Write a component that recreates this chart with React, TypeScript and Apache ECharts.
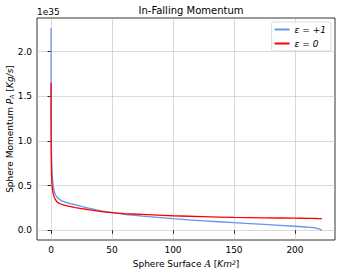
import React, { useEffect, useRef } from "react";
import * as echarts from "echarts";

const area = [0, 0.1, 0.3, 0.6, 1, 1.5, 2, 3, 4, 5, 7, 10, 15, 20, 30, 40, 50, 60, 75, 100, 125, 150, 175, 200, 210, 215, 219, 222];
const momentumPlus = [2.26, 1.35, 0.95, 0.75, 0.62, 0.53, 0.48, 0.42, 0.39, 0.37, 0.345, 0.325, 0.303, 0.285, 0.25, 0.22, 0.197, 0.18, 0.16, 0.13, 0.107, 0.086, 0.066, 0.046, 0.037, 0.03, 0.018, 0.003];
const momentumZero = [1.65, 0.95, 0.7, 0.56, 0.48, 0.43, 0.4, 0.36, 0.335, 0.318, 0.3, 0.285, 0.268, 0.255, 0.233, 0.213, 0.198, 0.188, 0.178, 0.163, 0.153, 0.145, 0.14, 0.136, 0.134, 0.133, 0.132, 0.131];
const xTicks = [0, 50, 100, 150, 200];
const yTicks = [0, 0.5, 1.0, 1.5, 2.0];
const seriesNames = ["ε = +1", "ε = 0"];

export default function App() {
  const ref = useRef<HTMLDivElement>(null);
  useEffect(() => {
    if (!ref.current) return;
    const chart = echarts.init(ref.current, null, { renderer: "svg" });
    const font = "DejaVu Sans";
    const axisCommon = {
      axisLine: { show: false },
      axisTick: { show: true, inside: false, length: 3.5, lineStyle: { color: "#000", width: 0.8 } },
      splitLine: { show: true, lineStyle: { color: "#b0b0b0", width: 0.8, opacity: 0.6 } },
    };
    chart.setOption({
      animation: false,
      backgroundColor: "#fff",
      textStyle: { fontFamily: font },
      title: {
        text: "In-Falling Momentum",
        left: 186,
        top: 0,
        textAlign: "center",
        textStyle: { fontFamily: font, fontSize: 10, fontWeight: "normal", color: "#000" },
      },
      grid: {
        left: 37,
        right: 6,
        top: 18,
        bottom: 35,
        containLabel: false,
        outerBoundsMode: "none",
        show: true,
        borderColor: "#000",
        borderWidth: 0.8,
        backgroundColor: "transparent",
      },
      legend: {
        orient: "vertical",
        right: 10,
        top: 22,
        itemWidth: 15,
        itemHeight: 2,
        itemGap: 5,
        padding: [3, 5, 3, 3],
        borderColor: "#d0d0d0",
        borderWidth: 0.8,
        borderRadius: 2,
        backgroundColor: "rgba(255,255,255,0.8)",
        icon: "rect",
        textStyle: { fontFamily: font, fontSize: 9, fontStyle: "italic", color: "#000" },
        data: seriesNames,
      },
      xAxis: {
        type: "value",
        min: -11.5,
        max: 232.8,
        ...axisCommon,
        axisTick: { ...axisCommon.axisTick, customValues: xTicks },
        axisLabel: { customValues: xTicks, fontFamily: font, fontSize: 9, color: "#000", margin: 5 },
        name: "{n|Sphere Surface }{c|A}{n| [}{i|Km}{sup|2}{n|]}",
        nameLocation: "middle",
        nameGap: 19,
        nameTextStyle: {
          fontFamily: font,
          fontSize: 9,
          color: "#000",
          rich: {
            n: { fontFamily: font, fontSize: 9, color: "#000" },
            i: { fontFamily: font, fontSize: 9, fontStyle: "italic", color: "#000" },
            c: { fontFamily: "DejaVu Serif", fontSize: 9, fontStyle: "italic", color: "#000" },
            sup: { fontFamily: font, fontSize: 6, fontStyle: "italic", color: "#000", verticalAlign: "top", padding: [0, 0, 4, 0] },
          },
        },
      },
      yAxis: {
        type: "value",
        min: -0.108,
        max: 2.375,
        ...axisCommon,
        axisTick: { ...axisCommon.axisTick, customValues: yTicks },
        axisLabel: {
          customValues: yTicks,
          fontFamily: font,
          fontSize: 9,
          color: "#000",
          margin: 5,
          formatter: (v: number) => v.toFixed(1),
        },
      },
      graphic: [
        {
          type: "text",
          left: 37,
          top: 7,
          style: { text: "1e35", fontFamily: font, fontSize: 9, fill: "#000" },
        },
        {
          type: "text",
          x: 10,
          y: 129,
          rotation: Math.PI / 2,
          style: {
            text: "{n|Sphere Momentum }{i|P}{s|A}{n| [}{i|Kg/s}{n|]}",
            align: "center",
            verticalAlign: "middle",
            fontFamily: font,
            fontSize: 9,
            fill: "#000",
            rich: {
              n: { fontFamily: font, fontSize: 9, fill: "#000" },
              i: { fontFamily: font, fontSize: 9, fontStyle: "italic", fill: "#000" },
              s: { fontFamily: "DejaVu Serif", fontSize: 6, fontStyle: "italic", fill: "#000", verticalAlign: "bottom" },
            },
          },
        },
      ],
      series: [
        {
          name: seriesNames[0],
          type: "line",
          data: area.map((a, i) => [a, momentumPlus[i]]),
          showSymbol: false,
          smooth: 0.3,
          lineStyle: { color: "#6495ED", width: 1.3 },
          itemStyle: { color: "#6495ED" },
          z: 2,
        },
        {
          name: seriesNames[1],
          type: "line",
          data: area.map((a, i) => [a, momentumZero[i]]),
          showSymbol: false,
          smooth: 0.3,
          lineStyle: { color: "#FF0000", width: 1.3 },
          itemStyle: { color: "#FF0000" },
          z: 3,
        },
      ],
    });
    return () => chart.dispose();
  }, []);
  return <div ref={ref} style={{ width: 341, height: 275, position: "absolute", left: 0, top: 0 }} />;
}
